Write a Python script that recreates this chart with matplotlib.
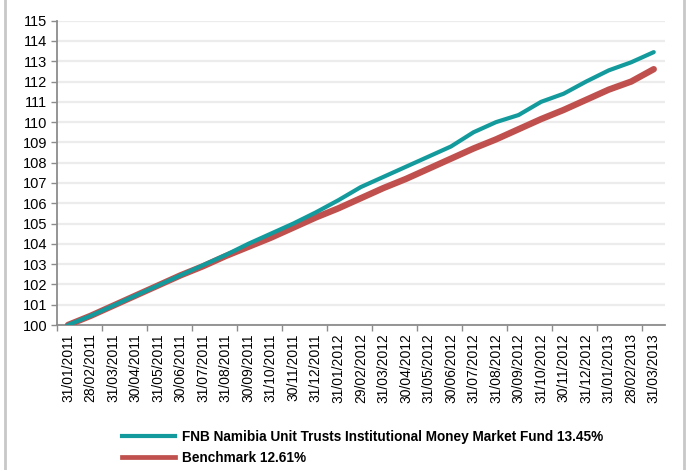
import numpy as np
import matplotlib
matplotlib.use('Agg')
import matplotlib.pyplot as plt
from matplotlib.lines import Line2D

plt.rcParams['font.family'] = ['Liberation Sans', 'DejaVu Sans']

dates = ['31/01/2011', '28/02/2011', '31/03/2011', '30/04/2011', '31/05/2011',
         '30/06/2011', '31/07/2011', '31/08/2011', '30/09/2011', '31/10/2011',
         '30/11/2011', '31/12/2011', '31/01/2012', '29/02/2012', '31/03/2012',
         '30/04/2012', '31/05/2012', '30/06/2012', '31/07/2012', '31/08/2012',
         '30/09/2012', '31/10/2012', '30/11/2012', '31/12/2012', '31/01/2013',
         '28/02/2013', '31/03/2013']

fund = [100.0, 100.45, 100.95, 101.45, 101.95, 102.45, 102.95, 103.45, 104.0,
        104.5, 105.0, 105.55, 106.15, 106.8, 107.3, 107.8, 108.3, 108.8,
        109.5, 110.0, 110.35, 111.0, 111.4, 112.0, 112.55, 112.95, 113.45]

benchmark = [100.0, 100.45, 100.95, 101.45, 101.95, 102.45, 102.9, 103.4,
             103.85, 104.3, 104.8, 105.3, 105.75, 106.25, 106.75, 107.2, 107.7,
             108.2, 108.7, 109.15, 109.65, 110.15, 110.6, 111.1, 111.6, 112.0,
             112.61]

fund_label = 'FNB Namibia Unit Trusts Institutional Money Market Fund 13.45%'
bench_label = 'Benchmark 12.61%'

fund_col = '#139a9c'
bench_col = '#c0504d'
axis_col = '#8c8c8c'

fig = plt.figure(figsize=(6.86, 4.70), dpi=100, facecolor='white')
ax = fig.add_axes([0.0827, 0.3085, 0.8867, 0.6475])

x = np.arange(len(dates))
ax.plot(x, benchmark, color=bench_col, lw=4.6, solid_capstyle='round',
        label=bench_label, zorder=3)
ax.plot(x, fund, color=fund_col, lw=3.0, solid_capstyle='round',
        label=fund_label, zorder=4)

ax.set_xlim(-0.5, len(dates) - 0.5)
ax.set_ylim(100, 115)
ax.set_yticks(np.arange(100, 116, 1))
ax.yaxis.grid(True, color='#ececec', lw=1.6)
ax.set_axisbelow(True)

# labels at categories, tick marks on every second boundary
ax.set_xticks(np.arange(-0.5, len(dates) - 0.5, 2))
ax.set_xticklabels([])
ax.set_xticks(x, minor=True)
ax.set_xticklabels(dates, minor=True, rotation=90, fontsize=10)
ax.tick_params(axis='x', which='major', length=4, width=1, color=axis_col,
               direction='out')
ax.tick_params(axis='x', which='minor', length=0, pad=6)
ax.tick_params(axis='y', length=4, width=1, color=axis_col, labelsize=10.5,
               pad=3)

for s in ['top', 'right']:
    ax.spines[s].set_visible(False)
for s in ['left', 'bottom']:
    ax.spines[s].set_color(axis_col)
    ax.spines[s].set_linewidth(1.3)

handles = [Line2D([], [], color=fund_col, lw=3.0),
           Line2D([], [], color=bench_col, lw=3.4)]
fig.legend(handles, [fund_label, bench_label], loc='upper left',
           bbox_to_anchor=(0.178, 0.086), frameon=False, handlelength=3.9,
           handletextpad=0.5, labelspacing=0.55,
           prop={'weight': 'bold', 'size': 9.8}, borderaxespad=0, borderpad=0)

# light frame edges left and right
for xf in [5 / 686, 683.5 / 686]:
    fig.add_artist(Line2D([xf, xf], [0, 1], color='#c8c8c8', lw=2,
                          transform=fig.transFigure))

fig.savefig('out.png', dpi=100, facecolor='white')
